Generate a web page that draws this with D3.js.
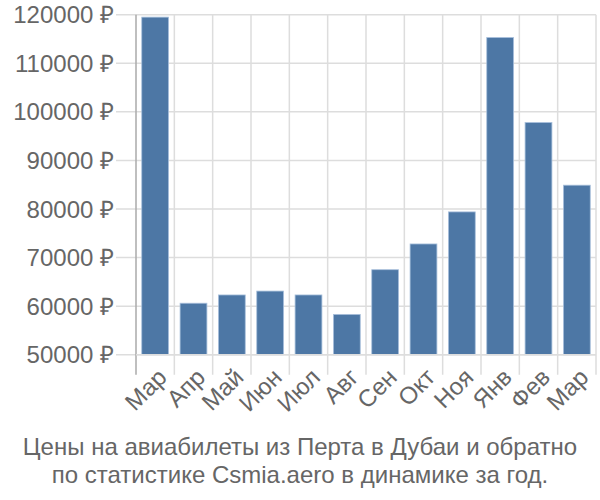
<!DOCTYPE html>
<html><head><meta charset="utf-8">
<script src="https://cdn.jsdelivr.net/npm/d3@7"></script>
<style>body{margin:0;background:#fff}</style>
</head><body>
<svg id="c" width="600" height="500"></svg>
<script>
const categories = ["Мар","Апр","Май","Июн","Июл","Авг","Сен","Окт","Ноя","Янв","Фев","Мар"];
const values = [119500,60600,62300,63100,62300,58300,67500,72800,79400,115300,97800,84900];
const yTicks = [50000,60000,70000,80000,90000,100000,110000,120000];
const titleLines = ["Цены на авиабилеты из Перта в Дубаи и обратно","по статистике Csmia.aero в динамике за год."];

(function(){
const svg = d3.select("#c");
const font = "'Liberation Sans', Arial, sans-serif";
const pL = 136, pR = 596, pT = 14.7, pB = 354.7;
const x = d3.scaleBand().domain(d3.range(categories.length)).range([pL, pR]).paddingInner(0.3).paddingOuter(0.15);
const y = d3.scaleLinear().domain([50000,120000]).range([pB, pT]);

svg.append("g").selectAll("line").data(yTicks).join("line")
  .attr("x1", pL-20).attr("x2", pR).attr("y1", d=>y(d)).attr("y2", d=>y(d))
  .attr("stroke","#ddd").attr("stroke-width",1.5);
const step = (pR-pL)/categories.length;
svg.append("g").selectAll("line").data(d3.range(categories.length+1)).join("line")
  .attr("x1", i=>pL+i*step).attr("x2", i=>pL+i*step).attr("y1", pT).attr("y2", pB+20)
  .attr("stroke", i=> i===0 ? "#aaa" : "#ddd").attr("stroke-width",1.5);

svg.append("g").selectAll("rect").data(values).join("rect")
  .attr("x",(d,i)=>x(i)).attr("width",x.bandwidth())
  .attr("y",d=>y(d)).attr("height",d=>pB-y(d))
  .attr("fill","#4d77a5").attr("stroke","#a9c0dc").attr("stroke-width",0.8);

svg.append("line").attr("x1",pL).attr("x2",pR).attr("y1",pB).attr("y2",pB).attr("stroke","#ddd").attr("stroke-width",1.5);

svg.append("g").selectAll("text").data(yTicks).join("text")
  .attr("x", 114).attr("y", d=>y(d)).attr("dy","0.36em").attr("text-anchor","end")
  .attr("font-family",font).attr("font-size",24).attr("fill","#666")
  .text(d=>d+" ₽");

svg.append("g").selectAll("text").data(categories).join("text")
  .attr("transform",(d,i)=>`translate(${x(i)+x.bandwidth()/2+7},${pB+18}) rotate(-45)`)
  .attr("text-anchor","end").attr("dy","0.36em")
  .attr("font-family",font).attr("font-size",24).attr("fill","#666")
  .text(d=>d);

svg.append("g").selectAll("text").data(titleLines).join("text")
  .attr("x",300).attr("y",(d,i)=>455+i*28).attr("text-anchor","middle")
  .attr("font-family",font).attr("font-size",24).attr("fill","#666")
  .text(d=>d);
})();
</script>
</body></html>
